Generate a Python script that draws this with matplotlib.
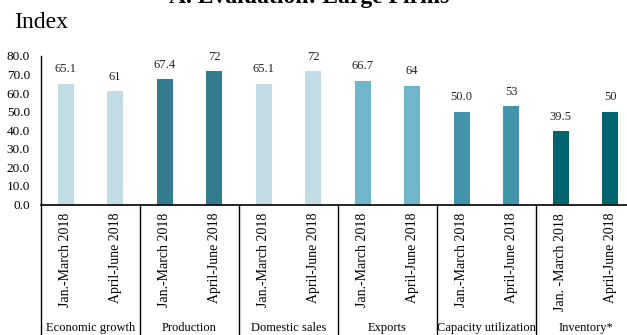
import matplotlib
matplotlib.use("Agg")
import matplotlib.pyplot as plt
from matplotlib.transforms import blended_transform_factory

plt.rcParams['font.family'] = ['Liberation Serif', 'DejaVu Serif']

groups = ["Economic growth", "Production", "Domestic sales", "Exports",
          "Capacity utilization", "Inventory*"]
periods = ["Jan.-March 2018", "April-June 2018",
           "Jan.-March 2018", "April-June 2018",
           "Jan.-March 2018", "April-June 2018",
           "Jan.-March 2018", "April-June 2018",
           "Jan.-March 2018", "April-June 2018",
           "Jan. -March 2018", "April-June 2018"]
values = [65.1, 61, 67.4, 72, 65.1, 72, 66.7, 64, 50.0, 53, 39.5, 50]
value_labels = ["65.1", "61", "67.4", "72", "65.1", "72", "66.7", "64",
                "50.0", "53", "39.5", "50"]
group_colors = ["#c1dce5", "#337b8e", "#c1dce5", "#70b6cb", "#4393aa", "#016570"]
yticks = [0, 10, 20, 30, 40, 50, 60, 70, 80]

W, H = 627, 335
fig = plt.figure(figsize=(W / 100, H / 100), dpi=100)
left_px, right_px = 41, 627
bottom_px, top_px = 204.5, 56
ax = fig.add_axes([left_px / W, 1 - bottom_px / H,
                   (right_px - left_px) / W, (bottom_px - top_px) / H])

x = list(range(len(values)))
colors = [group_colors[i // 2] for i in x]
ax.bar(x, values, width=0.32, color=colors)
for xi, v, lab in zip(x, values, value_labels):
    ax.annotate(lab, (xi, v), xytext=(0, 6), textcoords="offset points",
                ha="center", va="bottom", fontsize=9, color="#222222")

ax.set_xlim(-0.5, 11.34)
ax.set_ylim(0, 80)
ax.set_yticks(yticks)
ax.set_yticklabels([f"{t:.1f}" for t in yticks], fontsize=9.5)
ax.tick_params(axis="y", length=0, pad=8)
ax.set_xticks(x)
ax.set_xticklabels(periods, rotation=90, fontsize=10, va="top", ha="center")
ax.tick_params(axis="x", length=0, pad=6)

for s in ["top", "right"]:
    ax.spines[s].set_visible(False)
ax.spines["left"].set_linewidth(1.0)
ax.spines["bottom"].set_linewidth(1.2)

# group separators (extend below axis)
trans = ax.get_xaxis_transform()
ext = -(H - bottom_px) / (bottom_px - top_px)
for b in [-0.5, 1.5, 3.5, 5.5, 7.5, 9.5]:
    ax.plot([b, b], [0, ext], transform=trans, color="black", lw=1.0,
            clip_on=False)

# group labels
lab_trans = blended_transform_factory(ax.transData, fig.transFigure)
for i, g in enumerate(groups):
    ax.text(2 * i + 0.5, 1 - 328 / H, g, transform=lab_trans,
            ha="center", va="center", fontsize=9, clip_on=False)

fig.text(14 / W, 1 - 22 / H, "Index", fontsize=17, ha="left", va="center")
fig.text(309 / W, 1 - 3 / H, "A. Evaluation: Large Firms", fontsize=17,
         fontweight="bold", ha="center", va="baseline")

fig.savefig("out.png", dpi=100)
